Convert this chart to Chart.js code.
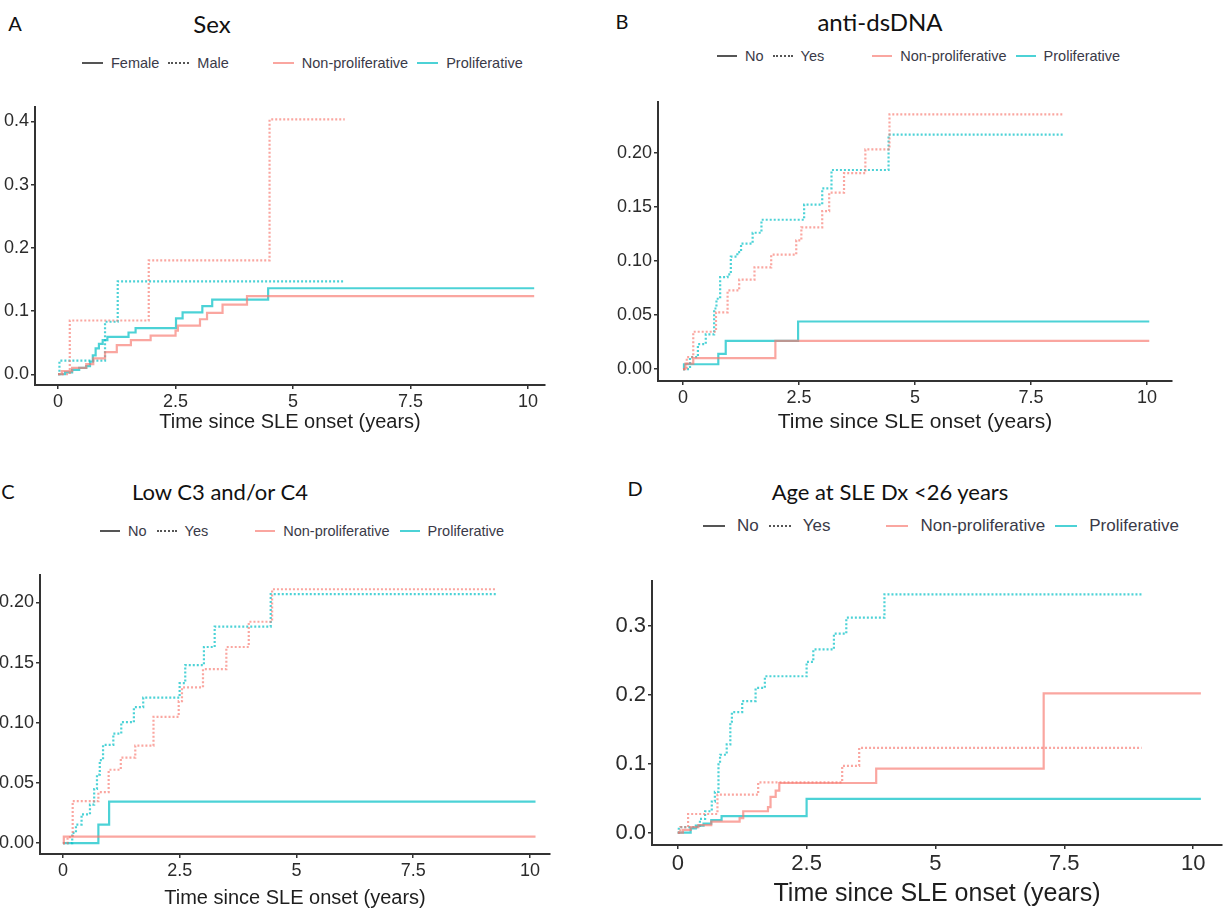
<!DOCTYPE html>
<html>
<head>
<meta charset="utf-8">
<script src="https://cdn.jsdelivr.net/npm/chart.js@4.4.1/dist/chart.umd.min.js"></script>
<style>
  body { margin: 0; background: #fff; width: 1225px; height: 914px; position: relative; overflow: hidden;
         font-family: "Liberation Sans", Arial, sans-serif; }
  canvas { position: absolute; }
  .txt { position: absolute; white-space: nowrap; transform: translate(-50%, -50%); color: #111;
         font-family: Lato, "Open Sans", sans-serif; }
  .xt { position: absolute; white-space: nowrap; transform: translate(-50%, -50%); color: #1e1e1e; }
  .legend { position: absolute; display: flex; align-items: center; white-space: nowrap; transform: translateY(-50%); color: #3a3a48; }
  .sw { display: inline-block; height: 0; border-top-width: 2px; }
</style>
</head>
<body>
<script>
// ---- data (cumulative incidence) ----
const xTicks = [0, 2.5, 5, 7.5, 10]
const xTickLabels = ["0", "2.5", "5", "7.5", "10"]
const xTitle = "Time since SLE onset (years)"
const groupLabels = ["Non-proliferative", "Proliferative"]

// A: Sex
const sexLabels = ["Female", "Male"]
const sexYTicks = [0, 0.1, 0.2, 0.3, 0.4]
const sexFemaleNonProlif = [[0,0],[0.08,0.005],[0.3,0.01],[0.6,0.016],[0.75,0.025],[1.0,0.035],[1.25,0.046],[1.55,0.054],[1.97,0.061],[2.5,0.069],[2.55,0.077],[3.02,0.087],[3.17,0.097],[3.5,0.11],[4.02,0.1236],[10.13,0.1236]]
const sexFemaleProlif = [[0,0],[0.15,0.003],[0.3,0.007],[0.45,0.01],[0.6,0.013],[0.68,0.02],[0.74,0.03],[0.8,0.041],[0.87,0.048],[0.95,0.054],[1.05,0.059],[1.5,0.066],[1.65,0.073],[2.51,0.0885],[2.65,0.098],[3.07,0.1076],[3.28,0.118],[4.47,0.136],[10.13,0.136]]
const sexMaleNonProlif = [[0,0],[0.25,0.085],[1.93,0.18],[4.5,0.403],[6.1,0.403]]
const sexMaleProlif = [[0,0],[0.03,0.0216],[1.0,0.083],[1.27,0.147],[6.1,0.147]]

// B: anti-dsDNA
const dsdnaLabels = ["No", "Yes"]
const dsdnaYTicks = [0, 0.05, 0.1, 0.15, 0.2]
const dsdnaNoNonProlif = [[0,0],[0.05,0.005],[0.22,0.0102],[1.99,0.026],[10.05,0.026]]
const dsdnaNoProlif = [[0,0],[0.02,0.0045],[0.76,0.014],[0.92,0.026],[2.48,0.044],[10.05,0.044]]
const dsdnaYesNonProlif = [[0,0],[0.08,0.011],[0.22,0.0345],[0.71,0.0525],[0.96,0.0727],[1.21,0.0826],[1.54,0.094],[1.9,0.1057],[2.44,0.119],[2.55,0.131],[3.0,0.146],[3.15,0.163],[3.47,0.181],[3.93,0.203],[4.45,0.2354],[8.19,0.2354]]
const dsdnaYesProlif = [[0,0],[0.15,0.011],[0.32,0.023],[0.49,0.032],[0.67,0.056],[0.72,0.065],[0.8,0.085],[0.96,0.0876],[1.03,0.104],[1.17,0.108],[1.25,0.116],[1.5,0.126],[1.69,0.138],[2.61,0.152],[3.0,0.167],[3.2,0.184],[4.43,0.2166],[8.19,0.2166]]

// C: Low C3 and/or C4
const compLabels = ["No", "Yes"]
const compYTicks = [0, 0.05, 0.1, 0.15, 0.2]
const compNoNonProlif = [[0,0],[0.02,0.0054],[10.12,0.0054]]
const compNoProlif = [[0,0],[0.76,0.0154],[0.99,0.0346],[10.12,0.0346]]
const compYesNonProlif = [[0,0],[0.1,0.005],[0.21,0.035],[0.76,0.0424],[0.98,0.061],[1.24,0.071],[1.55,0.081],[1.94,0.105],[2.48,0.118],[2.55,0.1295],[3.0,0.1446],[3.5,0.163],[3.98,0.184],[4.48,0.211],[9.28,0.211]]
const compYesProlif = [[0,0],[0.2,0.0086],[0.28,0.0154],[0.4,0.024],[0.58,0.032],[0.67,0.045],[0.73,0.057],[0.79,0.069],[0.86,0.0816],[1.08,0.091],[1.25,0.1005],[1.52,0.113],[1.72,0.121],[2.5,0.133],[2.62,0.148],[3.02,0.163],[3.25,0.18],[4.45,0.207],[9.28,0.207]]

// D: Age at SLE Dx <26 years
const ageLabels = ["No", "Yes"]
const ageYTicks = [0, 0.1, 0.2, 0.3]
const ageNoNonProlif = [[0,0],[0.1,0.004],[0.25,0.008],[0.4,0.011],[0.65,0.016],[1.2,0.021],[1.27,0.031],[1.75,0.037],[1.8,0.052],[1.9,0.061],[1.97,0.072],[3.85,0.093],[7.1,0.202],[10.15,0.202]]
const ageNoProlif = [[0,0],[0.25,0.006],[0.35,0.01],[0.5,0.013],[0.65,0.018],[0.85,0.024],[2.5,0.049],[10.15,0.049]]
const ageYesNonProlif = [[0,0],[0.05,0.008],[0.2,0.027],[0.77,0.055],[1.56,0.073],[3.19,0.097],[3.52,0.123],[9.0,0.123]]
const ageYesProlif = [[0,0],[0.02,0.008],[0.43,0.02],[0.53,0.031],[0.66,0.045],[0.72,0.059],[0.79,0.099],[0.82,0.113],[0.95,0.128],[1.02,0.161],[1.05,0.175],[1.25,0.191],[1.51,0.21],[1.69,0.227],[2.5,0.248],[2.63,0.266],[3.03,0.289],[3.27,0.312],[4.01,0.346],[9.0,0.346]]

const red = "rgba(248,118,109,0.65)"
const cyan = "rgba(0,191,196,0.7)"
const axisColor = "#333"

// ---- panels (layout in page pixels) ----
const panels = [
    {letter:"A", title:"Sex", lineLabels:sexLabels, yTicks:sexYTicks, dec:1,
     series:[sexFemaleNonProlif, sexMaleNonProlif, sexFemaleProlif, sexMaleProlif],
     area:{left:35, right:545, top:100, bottom:385}, x:[-0.49, 10.36], y:[-0.017, 0.423],
     tickFont:18, titleFont:20, titleY:421,
     letterPos:[15, 23], titlePos:[212, 23], titleSize:24,
     legend:{x:82, y:63, font:14.5, sw:21, groupGap:44, textGap:8, itemGap:9}},
    {letter:"B", title:"anti-dsDNA", lineLabels:dsdnaLabels, yTicks:dsdnaYTicks, dec:2,
     series:[dsdnaNoNonProlif, dsdnaYesNonProlif, dsdnaNoProlif, dsdnaYesProlif],
     area:{left:658, right:1172, top:95, bottom:381}, x:[-0.54, 10.54], y:[-0.011, 0.247],
     tickFont:18, titleFont:21, titleY:421,
     letterPos:[622, 21], titlePos:[880, 21], titleSize:24,
     legend:{x:717, y:56, font:14.5, sw:20, groupGap:48, textGap:8, itemGap:9}},
    {letter:"C", title:"Low C3 and/or C4", lineLabels:compLabels, yTicks:compYTicks, dec:2,
     series:[compNoNonProlif, compYesNonProlif, compNoProlif, compYesProlif],
     area:{left:40, right:550, top:568, bottom:854}, x:[-0.49, 10.43], y:[-0.009, 0.223],
     tickFont:18, titleFont:20, titleY:897,
     letterPos:[8, 491], titlePos:[220, 491], titleSize:22,
     legend:{x:100, y:531, font:14.5, sw:20, groupGap:47, textGap:8, itemGap:10}},
    {letter:"D", title:"Age at SLE Dx <26 years", lineLabels:ageLabels, yTicks:ageYTicks, dec:1,
     series:[ageNoNonProlif, ageYesNonProlif, ageNoProlif, ageYesProlif],
     area:{left:652, right:1222, top:572, bottom:845}, x:[-0.5, 10.56], y:[-0.018, 0.365],
     tickFont:22, titleFont:25, titleY:892,
     letterPos:[635, 488], titlePos:[890, 491], titleSize:22,
     legend:{x:703, y:526, font:17, sw:22, groupGap:56, textGap:12, itemGap:10}}
]

function addText(cls, text, x, y, size){
    let el = document.createElement("div")
    el.className = cls
    el.textContent = text
    el.style.left = x + "px"
    el.style.top = y + "px"
    el.style.fontSize = size + "px"
    document.body.appendChild(el)
}

function addLegend(p){
    let lg = p.legend
    let box = document.createElement("div")
    box.className = "legend"
    box.style.left = lg.x + "px"
    box.style.top = lg.y + "px"
    box.style.fontSize = lg.font + "px"
    let items = [
        {text:p.lineLabels[0], color:"#555", style:"solid"},
        {text:p.lineLabels[1], color:"#555", style:"dotted"},
        {text:groupLabels[0], color:red, style:"solid"},
        {text:groupLabels[1], color:cyan, style:"solid"}
    ]
    items.forEach(function(it, i){
        let sw = document.createElement("span")
        sw.className = "sw"
        sw.style.width = lg.sw + "px"
        sw.style.borderTopStyle = it.style
        sw.style.borderTopColor = it.color
        sw.style.marginLeft = (i == 0 ? 0 : (i == 2 ? lg.groupGap : lg.itemGap)) + "px"
        let t = document.createElement("span")
        t.textContent = it.text
        t.style.marginLeft = lg.textGap + "px"
        box.appendChild(sw)
        box.appendChild(t)
    })
    document.body.appendChild(box)
}

function makePanel(p){
    let yw = 60, xh = 42, padTop = 6, padRight = 6
    let a = p.area
    let w = yw + (a.right - a.left) + padRight
    let h = padTop + (a.bottom - a.top) + xh
    let canvas = document.createElement("canvas")
    canvas.width = w
    canvas.height = h
    canvas.style.left = (a.left - yw) + "px"
    canvas.style.top = (a.top - padTop) + "px"
    canvas.style.width = w + "px"
    canvas.style.height = h + "px"
    document.body.appendChild(canvas)

    let colors = [red, red, cyan, cyan]
    let dotted = [false, true, false, true]

    new Chart(canvas, {
        type:"line",
        data:{
            datasets:p.series.map(function(s, i){
                return {
                    data:s.map(function(pt){ return {x:pt[0], y:pt[1]} }),
                    borderColor:colors[i],
                    borderWidth:2.2,
                    borderDash:dotted[i] ? [2, 2] : [],
                    stepped:true,
                    pointRadius:0,
                    fill:false
                }
            })
        },
        options:{
            responsive:false,
            animation:false,
            devicePixelRatio:1,
            layout:{padding:{top:padTop, right:padRight, left:0, bottom:0}},
            plugins:{legend:{display:false}, tooltip:{enabled:false}},
            scales:{
                x:{
                    type:"linear", min:p.x[0], max:p.x[1],
                    afterFit:function(s){ s.height = xh },
                    afterBuildTicks:function(s){ s.ticks = xTicks.map(function(v){ return {value:v} }) },
                    ticks:{callback:function(v, i){ return xTickLabels[i] }, font:{size:p.tickFont, family:"Liberation Sans"},
                           color:"#2b2b2b", padding:2, maxRotation:0, autoSkip:false},
                    grid:{drawOnChartArea:false, tickLength:4, color:axisColor, lineWidth:1.5},
                    border:{color:axisColor, width:2}
                },
                y:{
                    type:"linear", min:p.y[0], max:p.y[1],
                    afterFit:function(s){ s.width = yw },
                    afterBuildTicks:function(s){ s.ticks = p.yTicks.map(function(v){ return {value:v} }) },
                    ticks:{callback:function(v){ return v.toFixed(p.dec) }, font:{size:p.tickFont, family:"Liberation Sans"},
                           color:"#2b2b2b", padding:2, autoSkip:false},
                    grid:{drawOnChartArea:false, tickLength:4, color:axisColor, lineWidth:1.5},
                    border:{color:axisColor, width:2}
                }
            }
        }
    })

    addText("xt", xTitle, (a.left + a.right) / 2, p.titleY, p.titleFont)
    addText("txt", p.letter, p.letterPos[0], p.letterPos[1], 20)
    addText("txt", p.title, p.titlePos[0], p.titlePos[1], p.titleSize)
    addLegend(p)
}

panels.forEach(makePanel)
</script>
</body>
</html>
